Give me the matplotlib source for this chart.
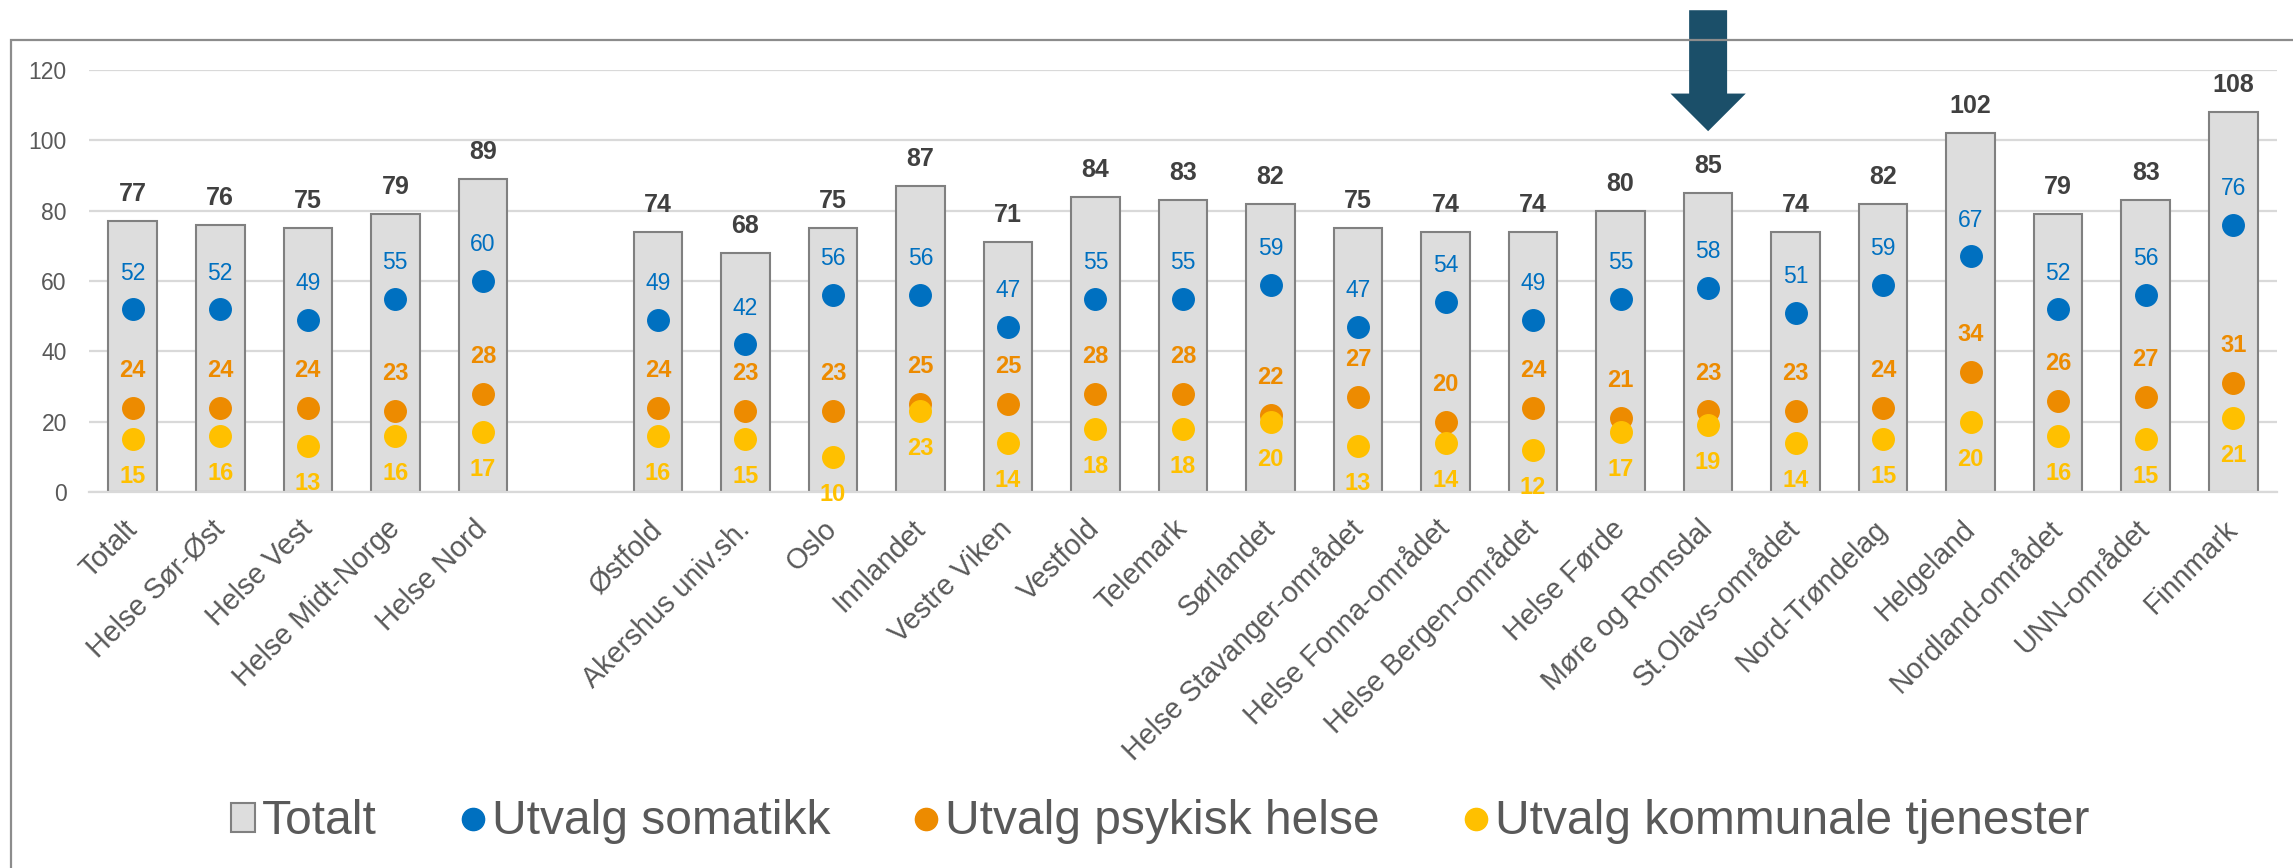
import numpy as np
import matplotlib
matplotlib.use("Agg")
import matplotlib.pyplot as plt
from matplotlib.patches import Rectangle, Polygon
from matplotlib.lines import Line2D

plt.rcParams['font.family'] = ['Liberation Sans', 'DejaVu Sans']

categories = ["Totalt", "Helse Sør-Øst", "Helse Vest", "Helse Midt-Norge", "Helse Nord", "",
              "Østfold", "Akershus univ.sh.", "Oslo", "Innlandet", "Vestre Viken", "Vestfold",
              "Telemark", "Sørlandet", "Helse Stavanger-området", "Helse Fonna-området",
              "Helse Bergen-området", "Helse Førde", "Møre og Romsdal", "St.Olavs-området",
              "Nord-Trøndelag", "Helgeland", "Nordland-området", "UNN-området", "Finnmark"]
nan = np.nan
totalt = [77, 76, 75, 79, 89, nan, 74, 68, 75, 87, 71, 84, 83, 82, 75, 74, 74, 80, 85, 74, 82, 102, 79, 83, 108]
somatikk = [52, 52, 49, 55, 60, nan, 49, 42, 56, 56, 47, 55, 55, 59, 47, 54, 49, 55, 58, 51, 59, 67, 52, 56, 76]
psykisk = [24, 24, 24, 23, 28, nan, 24, 23, 23, 25, 25, 28, 28, 22, 27, 20, 24, 21, 23, 23, 24, 34, 26, 27, 31]
kommunale = [15, 16, 13, 16, 17, nan, 16, 15, 10, 23, 14, 18, 18, 20, 13, 14, 12, 17, 19, 14, 15, 20, 16, 15, 21]
series_names = ["Totalt", "Utvalg somatikk", "Utvalg psykisk helse", "Utvalg kommunale tjenester"]
highlight = "Møre og Romsdal"
yticks = [0, 20, 40, 60, 80, 100, 120]

c_bar = "#DDDDDD"
c_edge = "#808080"
c_blue = "#0070C0"
c_orange = "#ED8B00"
c_yellow = "#FFC000"
c_text = "#595959"
c_total = "#404040"
c_grid = "#D9D9D9"

W, H = 2293, 868
fig = plt.figure(figsize=(W / 100, H / 100), dpi=100)
ax = fig.add_axes([89 / W, (H - 492) / H, (2277 - 89) / W, (492 - 70) / H])

x = np.arange(len(categories))
ax.bar(x, totalt, width=0.555, color=c_bar, edgecolor=c_edge, linewidth=1.5, zorder=2)
ms = 15.5
ax.plot(x, somatikk, 'o', ms=ms, color=c_blue, zorder=3, linestyle='none')
ax.plot(x, psykisk, 'o', ms=ms, color=c_orange, zorder=4, linestyle='none')
ax.plot(x, kommunale, 'o', ms=ms, color=c_yellow, zorder=5, linestyle='none')

for i in range(len(categories)):
    if np.isnan(totalt[i]):
        continue
    ax.annotate(f"{totalt[i]:g}", (x[i], totalt[i]), xytext=(0, 19.5), textcoords='offset points',
                ha='center', va='center', fontsize=18, fontweight='bold', color=c_total, zorder=6)
    ax.annotate(f"{somatikk[i]:g}", (x[i], somatikk[i]), xytext=(0, 26), textcoords='offset points',
                ha='center', va='center', fontsize=16.5, color=c_blue, zorder=6)
    ax.annotate(f"{psykisk[i]:g}", (x[i], psykisk[i]), xytext=(0, 27), textcoords='offset points',
                ha='center', va='center', fontsize=17, fontweight='bold', color=c_orange, zorder=6)
    ax.annotate(f"{kommunale[i]:g}", (x[i], kommunale[i]), xytext=(0, -27), textcoords='offset points',
                ha='center', va='center', fontsize=17, fontweight='bold', color=c_yellow, zorder=6)

ax.set_xlim(-0.5, len(categories) - 0.5)
ax.set_ylim(0, 120)
ax.set_yticks(yticks)
ax.set_yticklabels([str(t) for t in yticks], fontsize=16.5, color=c_text)
ax.set_xticks(x)
ax.set_xticklabels(categories, rotation=45, ha='right', va='center', rotation_mode='anchor',
                   fontsize=20.6, color=c_text)
ax.tick_params(axis='x', length=0, pad=23.5)
ax.tick_params(axis='y', length=0, pad=16)
ax.grid(axis='y', color=c_grid, linewidth=1.6, zorder=0)
ax.set_axisbelow(True)
for s in ['top', 'right', 'left']:
    ax.spines[s].set_visible(False)
ax.spines['bottom'].set_color(c_grid)
ax.spines['bottom'].set_linewidth(1.6)

# highlight arrow above the chosen category
hi = categories.index(highlight)
arrow_pts = [(hi - 0.217, 137), (hi + 0.217, 137), (hi + 0.217, 113.3), (hi + 0.43, 113.3),
             (hi, 102.6), (hi - 0.43, 113.3), (hi - 0.217, 113.3)]
ax.add_patch(Polygon(arrow_pts, closed=True, facecolor="#1B4F69", edgecolor='none',
                     clip_on=False, zorder=10))

# outer frame
frame = Rectangle((11 / W, -0.1), 1.2, (H - 40) / H + 0.1, transform=fig.transFigure,
                  facecolor='none', edgecolor="#8C8C8C", linewidth=1.6, clip_on=False)
fig.patches.append(frame)

handles = [Rectangle((0, 0), 1, 1, facecolor=c_bar, edgecolor=c_edge, linewidth=1.5),
           Line2D([], [], marker='o', ms=16, color=c_blue, linestyle='none'),
           Line2D([], [], marker='o', ms=16, color=c_orange, linestyle='none'),
           Line2D([], [], marker='o', ms=16, color=c_yellow, linestyle='none')]
leg = fig.legend(handles, series_names, loc='center', bbox_to_anchor=(1160 / W, 0.053), ncol=4,
                 frameon=False, fontsize=34.5, handlelength=0.5, handleheight=0.55,
                 handletextpad=0.15, columnspacing=1.75, labelcolor=c_text, borderpad=0)

fig.savefig("out.png", dpi=100)
